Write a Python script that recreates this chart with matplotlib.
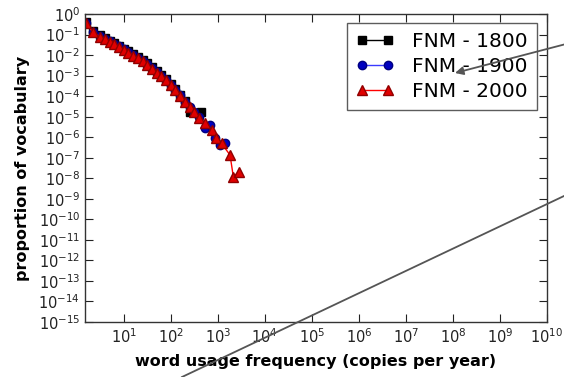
import matplotlib
matplotlib.use("Agg")
import matplotlib.pyplot as plt
from matplotlib.lines import Line2D

# data
x_1800 = [1.55, 2.24, 3.09, 3.98, 5.01, 6.31, 7.94, 10, 12.6, 15.8, 20, 25.1, 31.6, 39.8,
          50.1, 63.1, 79.4, 100, 126, 158, 200, 251, 447]
y_1800 = [0.40, 0.145, 9.2e-2, 6.9e-2, 5.1e-2, 3.9e-2, 2.9e-2, 2.05e-2, 1.5e-2, 1.1e-2,
          8.2e-3, 5.8e-3, 3.9e-3, 2.5e-3, 1.6e-3, 1.07e-3, 6.9e-4, 3.8e-4, 2.2e-4,
          1.2e-4, 5.8e-5, 1.74e-5, 1.74e-5]

x_1900 = [1.55, 2.24, 3.09, 3.98, 5.01, 6.31, 7.94, 10, 12.6, 15.8, 20, 25.1, 31.6, 39.8,
          50.1, 63.1, 79.4, 100, 126, 158, 200, 251, 316, 398, 525, 676, 871, 1096, 1413]
y_1900 = [0.37, 0.135, 8.5e-2, 6.4e-2, 4.8e-2, 3.6e-2, 2.7e-2, 1.9e-2, 1.4e-2, 1.02e-2,
          7.6e-3, 5.4e-3, 3.6e-3, 2.35e-3, 1.5e-3, 1.0e-3, 6.4e-4, 3.5e-4, 2.0e-4,
          1.1e-4, 5.3e-5, 3.0e-5, 1.7e-5, 9.5e-6, 2.7e-6, 4.0e-6, 8.7e-7, 4.0e-7, 5.0e-7]

x_2000 = [1.55, 2.24, 3.09, 3.98, 5.01, 6.31, 7.94, 10, 12.6, 15.8, 20, 25.1, 31.6, 39.8,
          50.1, 63.1, 79.4, 100, 126, 158, 200, 251, 316, 398, 525, 741, 933, 1202, 1820,
          2138, 2818]
y_2000 = [0.355, 0.126, 7.9e-2, 6.0e-2, 4.5e-2, 3.4e-2, 2.5e-2, 1.78e-2, 1.32e-2, 9.5e-3,
          7.1e-3, 5.0e-3, 3.4e-3, 2.2e-3, 1.4e-3, 9.3e-4, 6.0e-4, 3.3e-4, 1.9e-4,
          1.05e-4, 5.0e-5, 2.8e-5, 1.6e-5, 8.9e-6, 4.7e-6, 2.2e-6, 8.7e-7, 5.0e-7,
          1.35e-7, 1.2e-8, 2.1e-8]

labels = ["FNM - 1800", "FNM - 1900", "FNM - 2000"]

W, H = 564, 377
fig = plt.figure(figsize=(W / 100, H / 100), dpi=100)
ax = fig.add_axes([85 / W, 1 - 322 / H, (547 - 85) / W, (322 - 14) / H])

ax.plot(x_1800, y_1800, "s-", color="black", mfc="black", mec="black", ms=5.5, lw=1, label=labels[0])
ax.plot(x_1900, y_1900, "o-", color="#3a3aff", mfc="#0000c0", mec="#000080", ms=6, lw=1, label=labels[1])
ax.plot(x_2000, y_2000, "^-", color="red", mfc="#e00000", mec="#900000", ms=6.5, lw=1, label=labels[2])

ax.set_xscale("log")
ax.set_yscale("log")
ax.set_xlim(1.5, 1e10)
ax.set_ylim(1e-15, 1)
ax.set_xticks([10.0 ** k for k in range(1, 11)])
ax.set_yticks([10.0 ** k for k in range(-15, 1)])
ax.yaxis.set_minor_locator(matplotlib.ticker.NullLocator())
ax.tick_params(which="both", direction="in", top=True, right=True, labelsize=10.5, colors="#222222")
ax.tick_params(which="major", length=6, width=0.8)
ax.tick_params(which="minor", length=3, width=0.6)
for s in ax.spines.values():
    s.set_color("#333333")
    s.set_linewidth(1.0)

ax.set_xlabel("word usage frequency (copies per year)", fontsize=11.5, fontweight="bold", labelpad=6)
ax.set_ylabel("proportion of vocabulary", fontsize=11.5, fontweight="bold", labelpad=6)

leg = ax.legend(loc="upper right", fontsize=14.5, frameon=True, fancybox=False,
                bbox_to_anchor=(537 / W, 1 - 23 / H), bbox_transform=fig.transFigure,
                borderaxespad=0, borderpad=0.45, labelspacing=0.3, handlelength=1.9,
                handletextpad=0.9, numpoints=2)
leg.get_frame().set_edgecolor("#333333")
leg.get_frame().set_linewidth(1.0)

# stray annotation lines crossing the figure
arr = ax.annotate("", xy=(455, H - 73), xycoords="figure pixels",
                  xytext=(W + 2, H - 44), textcoords="figure pixels",
                  arrowprops=dict(arrowstyle="-|>", color="#555555", lw=1.3, mutation_scale=12,
                                  shrinkA=0, shrinkB=0),
                  annotation_clip=False)
arr.set_zorder(10)
fig.add_artist(Line2D([182 / W, 1.0], [0.0, 1 - 196 / H], color="#555555", lw=1.3,
                      transform=fig.transFigure, zorder=10))

fig.savefig("out.png", dpi=100)
